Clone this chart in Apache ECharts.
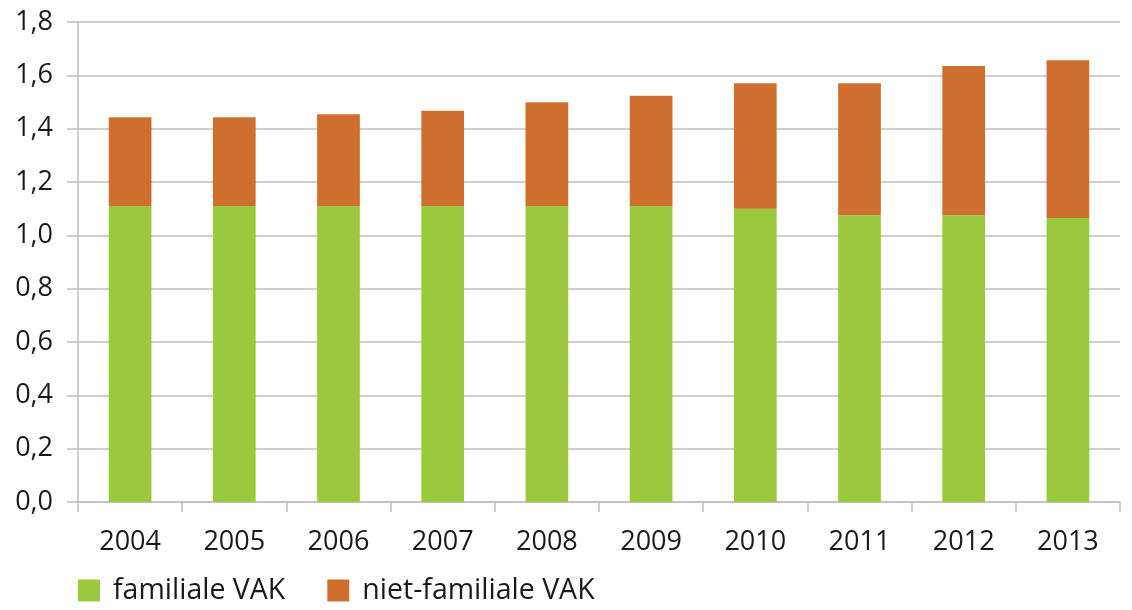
<!DOCTYPE html>
<html>
<head>
<meta charset="utf-8">
<script src="https://cdn.jsdelivr.net/npm/echarts@6/dist/echarts.min.js"></script>
<style>
  html, body { margin: 0; padding: 0; background: #fff; }
  #chart { width: 1132px; height: 610px; }
</style>
</head>
<body>
<div id="chart"></div>
<script>
// jaren
var years = ['2004', '2005', '2006', '2007', '2008', '2009', '2010', '2011', '2012', '2013'];
// familiale VAK (onderste deel)
var familiaal = [1.11, 1.11, 1.11, 1.11, 1.11, 1.11, 1.10, 1.075, 1.075, 1.065];
// niet-familiale VAK (bovenste deel)
var nietFamiliaal = [0.333, 0.333, 0.344, 0.357, 0.389, 0.413, 0.47, 0.495, 0.56, 0.592];

var textColor = '#1a1a1a';
var lineColor = '#bfbfbf';
var fontFam = 'Open Sans';

var chart = echarts.init(document.getElementById('chart'));
chart.setOption({
    animation: false,
    grid: {
        left: 78,
        right: 12,
        top: 22,
        bottom: 108
    },
    legend: {
        left: 73,
        bottom: 0,
        icon: 'rect',
        itemWidth: 22,
        itemHeight: 22,
        itemGap: 42,
        textStyle: { color: textColor, fontSize: 28.5, fontFamily: fontFam, padding: [0, 0, 0, 8] },
        data: ['familiale VAK', 'niet-familiale VAK']
    },
    xAxis: {
        type: 'category',
        data: years,
        axisLine: { lineStyle: { color: lineColor, width: 1.5 } },
        axisTick: { show: true, length: 10, lineStyle: { color: lineColor, width: 1.5 } },
        axisLabel: { color: textColor, fontSize: 27, fontFamily: fontFam, margin: 27 }
    },
    yAxis: {
        type: 'value',
        min: 0,
        max: 1.8,
        interval: 0.2,
        axisLine: { show: true, lineStyle: { color: lineColor, width: 1.5 } },
        axisTick: { show: true, length: 11, lineStyle: { color: lineColor, width: 1.5 } },
        splitLine: { lineStyle: { color: lineColor, width: 1.5 } },
        axisLabel: {
            color: textColor, fontSize: 27, fontFamily: fontFam, margin: 25,
            formatter: function (v) { return v.toFixed(1).replace('.', ','); }
        }
    },
    series: [
        {
            name: 'familiale VAK',
            type: 'bar',
            stack: 'vak',
            barWidth: '41%',
            data: familiaal,
            itemStyle: { color: '#9bc93d' }
        },
        {
            name: 'niet-familiale VAK',
            type: 'bar',
            stack: 'vak',
            data: nietFamiliaal,
            itemStyle: { color: '#cf6f2f' }
        }
    ]
});
</script>
</body>
</html>
